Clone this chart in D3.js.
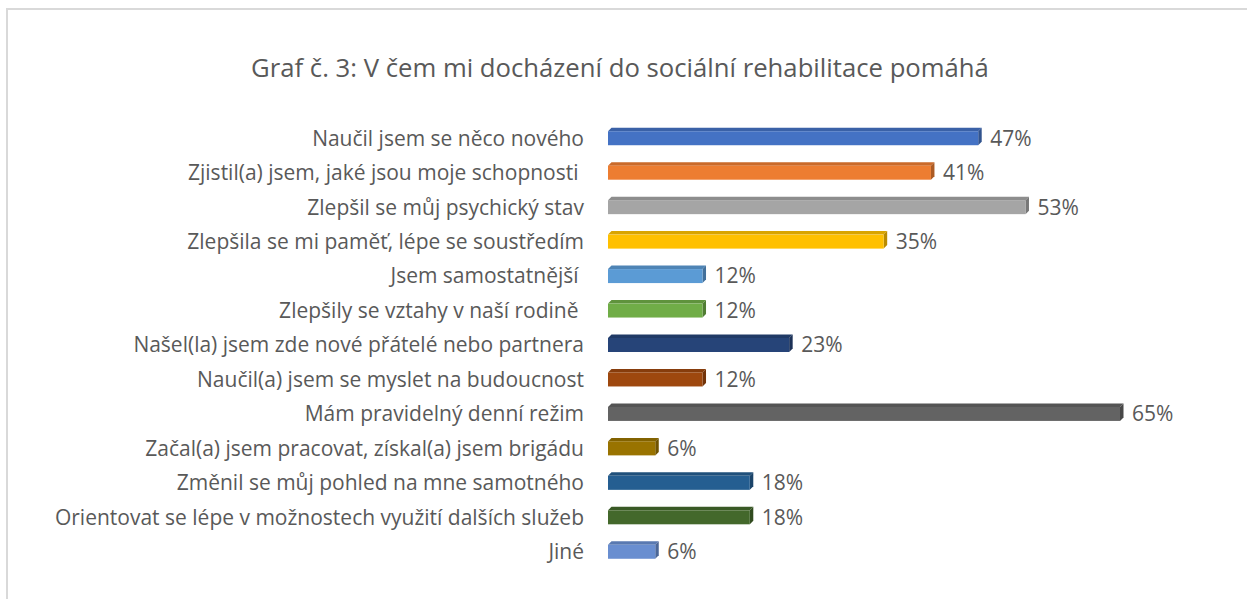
<!DOCTYPE html>
<html lang="cs">
<head>
<meta charset="UTF-8">
<title>Graf č. 3</title>
<script src="https://d3js.org/d3.v7.min.js"></script>
<style>
  body { margin: 0; background: #fff; }
  text { font-family: "Open Sans", "Noto Sans", sans-serif; fill: #595959; }
</style>
</head>
<body>
<div id="chart"></div>
<script>
// data
const categories = [
  "Naučil jsem se něco nového",
  "Zjistil(a) jsem, jaké jsou moje schopnosti ",
  "Zlepšil se můj psychický stav",
  "Zlepšila se mi paměť, lépe se soustředím",
  "Jsem samostatnější ",
  "Zlepšily se vztahy v naší rodině ",
  "Našel(la) jsem zde nové přátelé nebo partnera",
  "Naučil(a) jsem se myslet na budoucnost",
  "Mám pravidelný denní režim",
  "Začal(a) jsem pracovat, získal(a) jsem brigádu",
  "Změnil se můj pohled na mne samotného",
  "Orientovat se lépe v možnostech využití dalších služeb",
  "Jiné"
];
const values = [47, 41, 53, 35, 12, 12, 23, 12, 65, 6, 18, 18, 6];
const colors = ["#4472C4", "#ED7D31", "#A5A5A5", "#FFC000", "#5B9BD5", "#70AD47",
                "#264478", "#9E480E", "#636363", "#997300", "#255E91", "#43682B", "#698ED0"];

const width = 1247, height = 599;
const svg = d3.select("#chart").append("svg")
    .attr("width", width)
    .attr("height", height);

// frame of the chart area (light grey)
svg.append("path")
    .attr("d", "M7,599 V9 H1247")
    .attr("fill", "none")
    .attr("stroke", "#d9d9d9")
    .attr("stroke-width", 2);

svg.append("text")
    .attr("x", 620)
    .attr("y", 77)
    .attr("text-anchor", "middle")
    .style("font-size", "25.7px")
    .text("Graf č. 3: V čem mi docházení do sociální rehabilitace pomáhá");

const x = d3.scaleLinear().domain([0, 65]).range([608, 1120]);
const y = d3.scaleBand().domain(categories).range([120, 568]).paddingInner(0.5).paddingOuter(0.25);

const d = 3.5; // depth of the 3D effect
const bh = 14;

const rows = svg.selectAll("g.row")
  .data(categories.map((c, i) => ({ c: c, v: values[i], col: colors[i] })))
  .join("g")
    .attr("class", "row")
    .attr("transform", r => "translate(0," + (y(r.c) + y.bandwidth() / 2) + ")");

// top face
rows.append("path")
    .attr("d", r => {
      const x0 = x(0), x1 = x(r.v), t = -bh / 2 + 1;
      return "M" + x0 + "," + t + " L" + (x0 + d) + "," + (t - d) + " L" + (x1 + d) + "," + (t - d) + " L" + x1 + "," + t + "Z";
    })
    .attr("fill", r => d3.color(r.col).darker(0.45));

// side face
rows.append("path")
    .attr("d", r => {
      const x1 = x(r.v), t = -bh / 2 + 1;
      return "M" + x1 + "," + t + " L" + (x1 + d) + "," + (t - d) + " L" + (x1 + d) + "," + (t + bh - d) + " L" + x1 + "," + (t + bh) + "Z";
    })
    .attr("fill", r => d3.color(r.col).darker(0.9));

// front face
rows.append("rect")
    .attr("x", x(0))
    .attr("y", -bh / 2 + 1)
    .attr("width", r => x(r.v) - x(0))
    .attr("height", bh)
    .attr("fill", r => r.col);

// value labels
rows.append("text")
    .attr("x", r => x(r.v) + 12)
    .attr("y", 1)
    .attr("dy", "0.35em")
    .style("font-size", "21px")
    .text(r => r.v + "%");

// category labels
const yAxis = svg.append("g")
    .attr("transform", "translate(" + 584 + ",1)")
    .call(d3.axisLeft(y).tickSize(0).tickPadding(0));
yAxis.select(".domain").remove();
yAxis.selectAll("text")
    .attr("dy", "0.35em")
    .style("font-size", "21px")
    .style("font-family", "\"Open Sans\", sans-serif")
    .style("fill", "#595959")
    .style("white-space", "pre")
    .attr("xml:space", "preserve");
</script>
</body>
</html>
